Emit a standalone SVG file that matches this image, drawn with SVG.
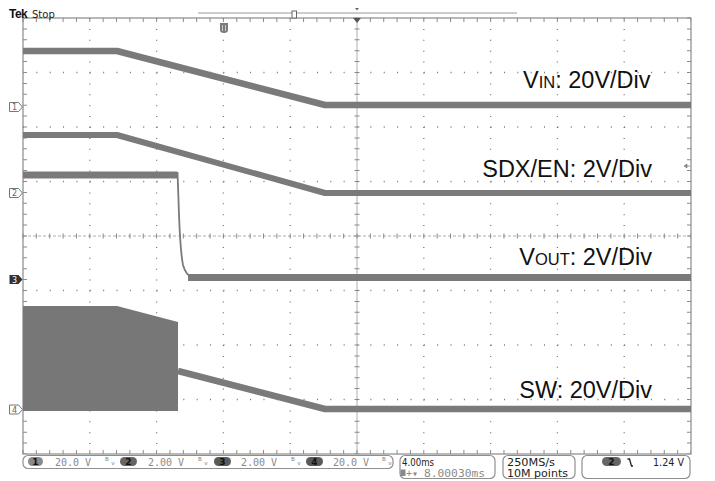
<svg xmlns="http://www.w3.org/2000/svg" width="715" height="481" viewBox="0 0 715 481">
<style>
.grid{stroke:#777;stroke-width:1.3;fill:none}
.tr{fill:none;stroke:#7a7a7a;stroke-linejoin:round}
.lbl{font-family:"Liberation Sans",Arial,sans-serif;fill:#111}
.st{font-family:"DejaVu Sans Mono",monospace;font-size:10px;fill:#8a8a8a}
.sd{font-family:"DejaVu Sans",sans-serif;font-size:10px;fill:#222}
.box{fill:#fff;stroke:#8f8f8f;stroke-width:1.2}
.mk{fill:#fff;stroke:#777;stroke-width:1}
.mkt{font-family:"DejaVu Sans",sans-serif;font-size:8px;fill:#666;text-anchor:middle}
.pt{font-family:"DejaVu Sans",sans-serif;font-size:9px;font-weight:bold;fill:#111;text-anchor:middle}
</style>
<rect width="715" height="481" fill="#fff"/>
<g id="graticule">
<rect x="23" y="18" width="668" height="436" fill="none" stroke="#8a8a8a" stroke-width="1.2"/>
<g class="grid" stroke-dasharray="1 9.9">
<line x1="89.8" y1="18" x2="89.8" y2="454"/>
<line x1="156.6" y1="18" x2="156.6" y2="454"/>
<line x1="223.4" y1="18" x2="223.4" y2="454"/>
<line x1="290.2" y1="18" x2="290.2" y2="454"/>
<line x1="423.8" y1="18" x2="423.8" y2="454"/>
<line x1="490.6" y1="18" x2="490.6" y2="454"/>
<line x1="557.4" y1="18" x2="557.4" y2="454"/>
<line x1="624.2" y1="18" x2="624.2" y2="454"/>
</g>
<g class="grid" stroke-dasharray="1 12.36">
<line x1="23" y1="72.5" x2="691" y2="72.5"/>
<line x1="23" y1="127" x2="691" y2="127"/>
<line x1="23" y1="181.5" x2="691" y2="181.5"/>
<line x1="23" y1="290.5" x2="691" y2="290.5"/>
<line x1="23" y1="345" x2="691" y2="345"/>
<line x1="23" y1="399.5" x2="691" y2="399.5"/>
</g>
<line x1="23" y1="236" x2="691" y2="236" stroke="#999" stroke-width="0.8" stroke-dasharray="3 2"/>
<line x1="357" y1="18" x2="357" y2="454" stroke="#999" stroke-width="0.8"/>
<g stroke="#8a8a8a" fill="none">
<line x1="22.5" y1="236" x2="691" y2="236" stroke-width="5" stroke-dasharray="1 12.36"/>
<line x1="357" y1="17.5" x2="357" y2="454" stroke-width="5" stroke-dasharray="1 9.9"/>
<line x1="22.5" y1="20" x2="691" y2="20" stroke-width="4" stroke-dasharray="1 12.36"/>
<line x1="22.5" y1="452" x2="691" y2="452" stroke-width="4" stroke-dasharray="1 12.36"/>
<line x1="25" y1="17.5" x2="25" y2="454" stroke-width="4" stroke-dasharray="1 9.9"/>
<line x1="689" y1="17.5" x2="689" y2="454" stroke-width="4" stroke-dasharray="1 9.9"/>
</g>
</g>
<g id="header">
<text x="9" y="18" font-family="Liberation Sans,Arial,sans-serif" font-size="12" font-weight="bold" fill="#111" letter-spacing="-0.5">Tek</text>
<text x="32" y="18" font-family="DejaVu Sans,sans-serif" font-size="10" fill="#222">Stop</text>
<line x1="198" y1="13" x2="517" y2="13" stroke="#999" stroke-width="1"/>
<rect x="292" y="11" width="4.5" height="7" fill="#fff" stroke="#666" stroke-width="1"/>
<path d="M355,8 h4 l-2,2.5 z" fill="#666"/>
<path d="M353,18 h8 l-4,5 z" fill="#555"/>
<path d="M220,23 h8 v7 q0,3 -4,3 q-4,0 -4,-3 z" fill="#7a7a7a"/>
<path d="M222.5,25 v6 M225.5,25 v6" stroke="#ddd" stroke-width="0.8"/>
<path d="M684,166 l3,-2 v4 z M687,166 h3" fill="#888" stroke="#888" stroke-width="0.8"/>
</g>
<g id="markers">
<g id="m1"><path class="mk" d="M9.5,102.5 h9 l4,4.5 l-4,4.5 h-9 z"/><text class="mkt" x="14.5" y="110">1</text></g>
<g id="m2"><path class="mk" d="M9.5,188.5 h9 l4,4.5 l-4,4.5 h-9 z"/><text class="mkt" x="14.5" y="196">2</text></g>
<g id="m3"><path d="M9.5,275 h9 l4,4.5 l-4,4.5 h-9 z" fill="#333"/><text class="mkt" x="14.5" y="282.5" style="fill:#fff">3</text></g>
<g id="m4"><path class="mk" d="M9.5,405 h9 l4,4.5 l-4,4.5 h-9 z"/><text class="mkt" x="14.5" y="412.5">4</text></g>
</g>
<g id="traces">
<polyline id="ch1" class="tr" stroke-width="6.5" points="23,51 117,51 325,105 691,105"/>
<polyline id="ch2" class="tr" stroke-width="6" points="23,135 117,135 325,193 691,193"/>
<polyline id="ch3a" class="tr" stroke-width="7" points="23,175 177,175"/>
<path id="ch3b" class="tr" stroke-width="1.8" d="M177.5,172 L178.5,200 Q180,250 183,265 Q186,276 193,277.5"/>
<polyline id="ch3c" class="tr" stroke-width="7" points="188,277.5 691,277.5"/>
<polygon id="ch4block" fill="#777" points="23,306 117,306 178,322 178,411 23,411"/>
<polyline id="ch4" class="tr" stroke-width="6.5" points="178,371 325,409 691,409"/>
</g>
<g id="labels">
<text class="lbl" x="523" y="88" font-size="23.5">V<tspan font-size="16.5">IN</tspan>: 20V/Div</text>
<text class="lbl" x="652" y="177" font-size="23.5" text-anchor="end">SDX/EN: 2V/Div</text>
<text class="lbl" x="652" y="265" font-size="23.5" text-anchor="end">V<tspan font-size="16.5">OUT</tspan>: 2V/Div</text>
<text class="lbl" x="652" y="398" font-size="23.5" text-anchor="end">SW: 20V/Div</text>
</g>
<g id="status">
<rect class="box" x="23" y="455.5" width="370" height="13" rx="5"/>
<rect x="28" y="457" width="15" height="9" rx="4.5" fill="#8a8a8a"/><text class="pt" x="35.5" y="465">1</text>
<text class="st" x="55" y="466">20.0 V</text>
<text class="st" x="104" y="465" font-size="7">ᴮᵥ</text>
<rect x="120" y="457" width="17" height="9" rx="4.5" fill="#666"/><text class="pt" x="128.5" y="465">2</text>
<text class="st" x="148" y="466">2.00 V</text>
<text class="st" x="197" y="465" font-size="7">ᴮᵥ</text>
<rect x="214" y="457" width="17" height="9" rx="4.5" fill="#5a5a5a"/><text class="pt" x="222.5" y="465">3</text>
<text class="st" x="241" y="466">2.00 V</text>
<text class="st" x="290" y="465" font-size="7">ᴮᵥ</text>
<rect x="306" y="457" width="17" height="9" rx="4.5" fill="#5a5a5a"/><text class="pt" x="314.5" y="465">4</text>
<text class="st" x="333" y="466">20.0 V</text>
<text class="st" x="381" y="465" font-size="7">ᴮᵥ</text>
<rect class="box" x="400" y="455.5" width="95" height="23" rx="5"/>
<text class="sd" x="402" y="466" textLength="32" lengthAdjust="spacingAndGlyphs">4.00ms</text>
<rect x="400.5" y="469.5" width="5" height="6.5" fill="#888"/>
<text class="st" x="406" y="476.5" font-size="7.5">+▾</text>
<text class="st" x="424" y="477" font-size="10.5" textLength="61" lengthAdjust="spacingAndGlyphs">8.00030ms</text>
<rect class="box" x="503" y="455.5" width="72" height="23" rx="5"/>
<text class="sd" x="507" y="466" textLength="48" lengthAdjust="spacingAndGlyphs">250MS/s</text>
<text class="sd" x="507" y="477" textLength="61" lengthAdjust="spacingAndGlyphs">10M points</text>
<rect class="box" x="582" y="455.5" width="108" height="23" rx="5"/>
<rect x="602" y="457" width="19" height="9" rx="4.5" fill="#666"/><text class="pt" x="611.5" y="465">2</text>
<path d="M627.5,459 h2 l2,7 h1.5" fill="none" stroke="#222" stroke-width="1.3"/>
<text class="sd" x="653" y="466" textLength="31" lengthAdjust="spacingAndGlyphs">1.24 V</text>
</g>
</svg>
